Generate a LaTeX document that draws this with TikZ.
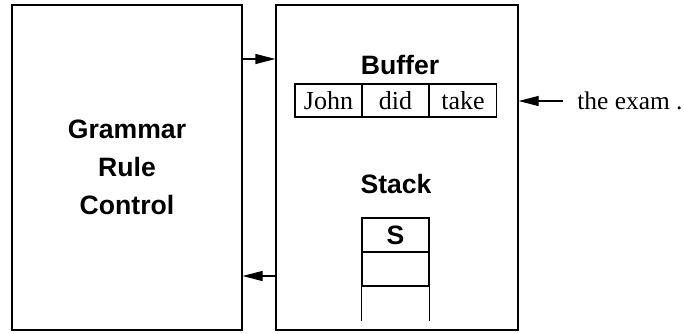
\documentclass[tikz,border=0pt]{standalone}
\usepackage{fontspec}
\setmainfont{Liberation Serif}
\setsansfont{Liberation Sans}
\usetikzlibrary{arrows.meta, positioning}

\begin{document}
\begin{tikzpicture}[
  x=0.5pt, y=-0.5pt,
  font=\fontsize{13}{19}\selectfont,
  blk/.style={draw, line width=0.6pt, inner sep=0pt, align=center,
              font=\fontsize{13.3}{19}\selectfont\sffamily\bfseries},
  cell/.style={draw, line width=0.6pt, inner sep=0pt,
               minimum width=33.5pt, minimum height=16.5pt},
  stk/.style={cell, minimum height=17pt,
              font=\fontsize{13.3}{19}\selectfont\sffamily\bfseries},
  lbl/.style={font=\fontsize{13.3}{19}\selectfont\sffamily\bfseries},
  arr/.style={-{Triangle[length=10pt, width=5pt]}, line width=0.6pt}
]
\useasboundingbox (0,0) rectangle (685,333);

% the two main boxes
\node[blk, minimum width=115pt, minimum height=162.5pt] (grammar) at (127,167.5)
  {Grammar\\Rule\\Control};
\node[blk, minimum width=121pt, minimum height=162.5pt] (memory) at (397,167.5) {};

% buffer
\node[lbl, anchor=base] (buflbl) at (400,74) {Buffer};
\node[cell] (john) at (328.5,100.5) {John};
\node[cell] (did)  at (395.5,100.5) {did};
\node[cell] (take) at (463,100.5)   {take};

% stack
\node[lbl, anchor=base] (stklbl) at (396,193) {Stack};
\node[stk] (s1) at (395.5,235) {S};
\node[stk] (s2) at (395.5,269) {};
\node[stk, draw=none] (s3) at (395.5,303) {};
\draw[line width=0.6pt] (s3.north west) -- (s3.south west)
                        (s3.north east) -- (s3.south east);

% input and connectors
\node[anchor=west, inner xsep=7pt, font=\fontsize{12.7}{19}\selectfont]
  (rest) at (563,101) {the exam .};
\coordinate (top) at (0,59);
\coordinate (bot) at (0,276);

\draw[arr] (grammar.east |- top) -- (memory.west |- top);
\draw[arr] (memory.west |- bot) -- (grammar.east |- bot);
\draw[arr] (rest.west) -- (memory.east |- rest.west);
\end{tikzpicture}
\end{document}
